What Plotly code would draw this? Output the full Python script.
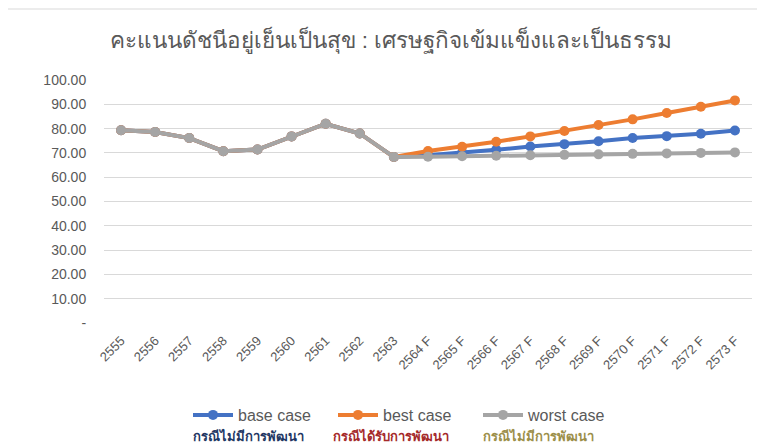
import plotly.graph_objs as go

# ข้อมูล
years = ['2555', '2556', '2557', '2558', '2559', '2560', '2561', '2562', '2563',
         '2564 F', '2565 F', '2566 F', '2567 F', '2568 F', '2569 F', '2570 F',
         '2571 F', '2572 F', '2573 F']
history = [79.3, 78.6, 76.1, 70.7, 71.4, 76.8, 82.0, 78.0, 68.3]
base_case = history + [69.0, 70.0, 71.3, 72.6, 73.6, 74.8, 76.1, 76.9, 77.9, 79.2]
best_case = history + [70.8, 72.5, 74.6, 76.8, 79.0, 81.5, 83.8, 86.4, 89.0, 91.6]
worst_case = history + [68.4, 68.6, 68.8, 69.0, 69.2, 69.4, 69.6, 69.8, 70.0, 70.2]

y_ticks = [0, 10, 20, 30, 40, 50, 60, 70, 80, 90, 100]
y_labels = ['-', '10.00', '20.00', '30.00', '40.00', '50.00',
            '60.00', '70.00', '80.00', '90.00', '100.00']

series_names = ['base case', 'best case', 'worst case']
series_colors = ['#4472C4', '#ED7D31', '#A5A5A5']
notes = ['กรณีไม่มีการพัฒนา', 'กรณีได้รับการพัฒนา', 'กรณีไม่มีการพัฒนา']
note_colors = ['#1F3864', '#A52A2A', '#9C8F4A']

font_family = 'Liberation Sans, Noto Sans, sans-serif'

# หน้าเว็บมีขอบ body 8px จึงย่อรูปลงให้พอดีหน้าต่าง
W, H = 757, 436
L, R, T, B = 96, 13, 72, 121
pw, ph = W - L - R, H - T - B

fig = go.Figure()
for name, values, color in zip(series_names, [base_case, best_case, worst_case], series_colors):
    fig.add_trace(go.Scatter(x=years, y=values, mode='lines+markers', name=name,
                             line=dict(color=color, width=4),
                             marker=dict(color=color, size=10)))

# คำอธิบายใต้ legend
for text, color, px in zip(notes, note_colors, [240, 383, 530]):
    fig.add_annotation(text=f'<b>{text}</b>', x=(px - L) / pw, y=(H - B - 428) / ph,
                       xref='paper', yref='paper', xanchor='center', yanchor='middle',
                       showarrow=False, font=dict(size=13, color=color))

# กรอบรอบแผนภูมิ
fig.add_shape(type='rect', xref='paper', yref='paper',
              x0=(-3 - L) / pw, x1=(W + 10 - L) / pw,
              y0=(H - B - H - 10) / ph, y1=(H - B - 1) / ph,
              line=dict(color='#D9D9D9', width=1))

fig.update_layout(
    width=W, height=H,
    margin=dict(l=L, r=R, t=T, b=B, autoexpand=False),
    paper_bgcolor='white', plot_bgcolor='white',
    font=dict(family=font_family, color='#595959'),
    title=dict(text='คะแนนดัชนีอยู่เย็นเป็นสุข : เศรษฐกิจเข้มแข็งและเป็นธรรม',
               x=383 / W, xanchor='center', y=1 - 32 / H, yanchor='middle',
               font=dict(size=22.5, color='#595959')),
    xaxis=dict(type='category', range=[-0.5, len(years) - 0.5], tickangle=-45,
               tickfont=dict(size=13, color='#595959'),
               showgrid=False, showline=False, ticks='outside', ticklen=4,
               tickcolor='rgba(0,0,0,0)', automargin=False),
    yaxis=dict(range=[0, 100], tickvals=y_ticks, ticktext=y_labels,
               tickfont=dict(size=14, color='#595959'),
               gridcolor='#D9D9D9', gridwidth=1, zeroline=False, showline=False,
               ticks='outside', ticklen=14, tickcolor='rgba(0,0,0,0)', automargin=False),
    legend=dict(orientation='h', x=(180 - L) / pw, xanchor='left',
                y=(H - B - 390) / ph, yanchor='top',
                font=dict(size=16, color='#595959'), itemwidth=40,
                entrywidth=90),
    showlegend=True,
)

fig.write_html('out.html')
